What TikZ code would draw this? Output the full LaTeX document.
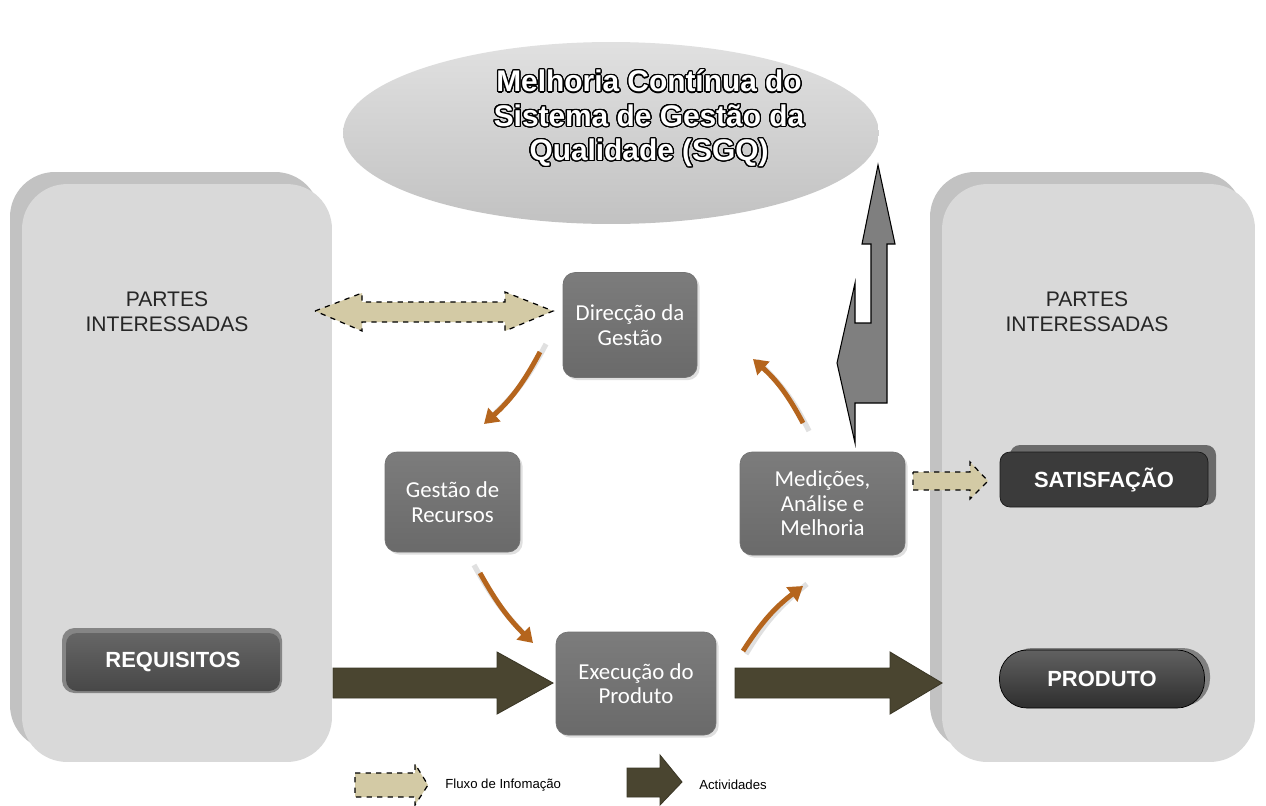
\documentclass[tikz,border=0pt]{standalone}
\usepackage{fontspec}
\setmainfont{Liberation Sans}
\newfontfamily\calib{Carlito}
\usepackage[copies]{contour}
\contourlength{0.7pt}
\contournumber{24}
\usetikzlibrary{shadows,arrows.meta,shapes.geometric}
\definecolor{panelfront}{HTML}{D9D9D9}
\definecolor{panelback}{HTML}{C2C2C2}
\definecolor{ellgray}{HTML}{C8C8C8}
\definecolor{proctop}{HTML}{7C7C7C}
\definecolor{procbot}{HTML}{6A6A6A}
\definecolor{olive}{HTML}{4A4530}
\definecolor{beige}{HTML}{D3CAA5}
\definecolor{orangebrown}{HTML}{B5651D}
\definecolor{biggray}{HTML}{7F7F7F}
\tikzset{
  panel/.style={fill=panelfront, rounded corners=0.9cm, inner sep=0},
  ptext/.style={align=center, text=black!85, font=\fontsize{12}{14.2}\selectfont},
  proc/.style={rounded corners=0.24cm, draw=black!55, top color=proctop, bottom color=procbot,
    text=white, align=center, inner sep=0, font=\calib\fontsize{13}{14}\selectfont,
    drop shadow={opacity=0.25, shadow xshift=1.5pt, shadow yshift=-1.5pt}},
  infoarrow/.style={fill=beige, draw=black, dashed, line width=0.7pt},
  actarrow/.style={fill=olive, draw=olive!80!black, line width=0.5pt},
  cyc/.style={draw=orangebrown, line width=2.8pt, -{Triangle[width=10pt,length=8pt]}},
  cycshadow/.style={draw=black!20, line width=3pt, opacity=0.6},
  darkbtn/.style={text=white, font=\bfseries\fontsize{12.5}{14}\selectfont, inner sep=0}
}
\begin{document}
\begin{tikzpicture}[x=0.02cm,y=-0.02cm]
\useasboundingbox (0,0) rectangle (1266,805);
\fill[white] (0,0) rectangle (1266,805);

% panels
\fill[panelback, rounded corners=0.9cm] (10,172) rectangle (320,750);
\node[panel, minimum width=6.2cm, minimum height=11.56cm] (lp) at (177,473) {};
\fill[panelback, rounded corners=0.9cm] (930,172) rectangle (1243,750);
\node[panel, minimum width=6.26cm, minimum height=11.56cm] (rp) at (1098.5,473) {};

\node[ptext] (lpt) at (167,312) {PARTES\\INTERESSADAS};
\node[ptext] (rpt) at (1087,312) {PARTES\\INTERESSADAS};

% ellipse
\node[ellipse, minimum width=10.72cm, minimum height=3.64cm, top color=black!12, bottom color=black!24, inner sep=0] (ell) at (611,133) {};
\node[align=center, text=white, font=\bfseries\fontsize{17}{19.6}\selectfont] (title) at (649,119)
  {\contour{black}{Melhoria Contínua do}\\\contour{black}{Sistema de Gestão da}\\\contour{black}{Qualidade (SGQ)}};

% big gray arrow
\filldraw[fill=biggray, draw=black, line width=0.6pt]
  (878,165) -- (895,244) -- (887,244) -- (887,403) -- (855,403) -- (855,443) -- (837,363)
  -- (855,283) -- (855,323) -- (871,323) -- (871,244) -- (862,244) -- cycle;

% process boxes
\node[proc, minimum width=2.68cm, minimum height=2.1cm] (dir) at (630,325) {Direcção da\\Gestão};
\node[proc, minimum width=2.7cm, minimum height=2.0cm] (rec) at (452.5,502) {Gestão de\\Recursos};
\node[proc, minimum width=3.3cm, minimum height=2.06cm] (med) at (822.5,503.5) {Medições,\\Análise e\\Melhoria};
\node[proc, minimum width=3.2cm, minimum height=2.06cm] (exe) at (636,683.5) {Execução do\\Produto};

% REQUISITOS
\fill[black!48, rounded corners=0.25cm] (62,628) rectangle (282,693);
\node[darkbtn, rounded corners=0.22cm, top color=black!60, bottom color=black!72,
  minimum width=4.28cm, minimum height=1.16cm] (req) at (173,662) {REQUISITOS};

% SATISFACAO
\fill[black!58, rounded corners=0.2cm] (1010,445) rectangle (1216,505);
\node[darkbtn, rounded corners=0.2cm, fill=black!77, draw=black!90,
  minimum width=4.16cm, minimum height=1.1cm] (sat) at (1104,479.5) {SATISFAÇÃO};

% PRODUTO
\fill[black!50, rounded corners=0.55cm] (1005,648) rectangle (1210,706);
\node[darkbtn, rounded corners=0.55cm, top color=black!62, bottom color=black!82, draw=black,
  minimum width=4.1cm, minimum height=1.16cm] (prod) at (1102,679) {PRODUTO};

% information flow arrows
\filldraw[infoarrow] (315,311) -- (362,293) -- (362,302) -- (505,302) -- (505,292) -- (553,311)
  -- (505,331) -- (505,322) -- (362,322) -- (362,331) -- cycle;
\filldraw[infoarrow] (913,472) -- (970,472) -- (970,462) -- (988,481) -- (970,499) -- (970,490)
  -- (913,490) -- cycle;

% activity arrows
\filldraw[actarrow] (333,668) -- (497,668) -- (497,652) -- (553,683) -- (497,714) -- (497,698)
  -- (333,698) -- cycle;
\filldraw[actarrow] (735,668) -- (890,668) -- (890,652) -- (942,683) -- (890,714) -- (890,698)
  -- (735,698) -- cycle;

% cycle arrows
\coordinate (c1s) at (540,352); \coordinate (c1e) at (484,424);
\coordinate (c2s) at (480,573); \coordinate (c2e) at (533,643);
\coordinate (c3s) at (743,651); \coordinate (c3e) at (803,586);
\coordinate (c4s) at (803,423); \coordinate (c4e) at (753,359);
\draw[cycshadow] ([shift={(6,-8)}]c1s) to[bend left=10] ([shift={(3,-3)}]c1e);
\draw[cycshadow] ([shift={(-6,-8)}]c2s) to[bend right=8] ([shift={(-3,-3)}]c2e);
\draw[cycshadow] ([shift={(3,3)}]c3s) to[bend left=10] ([shift={(4,-2)}]c3e);
\draw[cycshadow] ([shift={(6,8)}]c4s) to[bend right=10] ([shift={(4,2)}]c4e);
\draw[cyc] (c1s) to[bend left=10] (c1e);
\draw[cyc] (c2s) to[bend right=8] (c2e);
\draw[cyc] (c3s) to[bend left=10] (c3e);
\draw[cyc] (c4s) to[bend right=10] (c4e);

% legend
\filldraw[infoarrow] (355,773) -- (415,773) -- (415,764) -- (428,785) -- (415,805) -- (415,797)
  -- (355,797) -- cycle;
\node[anchor=west, font=\fontsize{7.5}{9}\selectfont, inner sep=0] (lg1) at (445,785) {Fluxo de Infomação};
\filldraw[actarrow] (627,768) -- (660,768) -- (660,755) -- (682,782) -- (660,805) -- (660,797)
  -- (627,797) -- cycle;
\node[anchor=west, font=\fontsize{7.5}{9}\selectfont, inner sep=0] (lg2) at (699,785) {Actividades};
\end{tikzpicture}
\end{document}
